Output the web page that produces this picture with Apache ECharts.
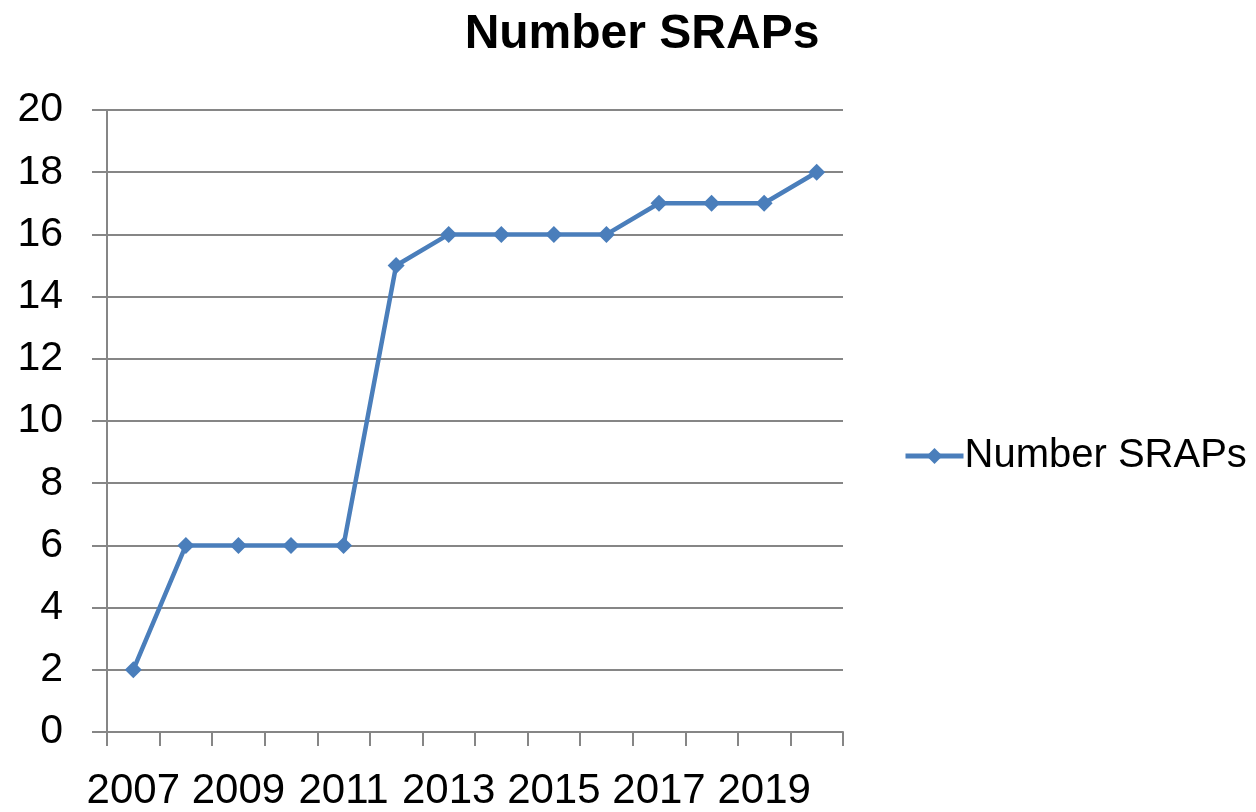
<!DOCTYPE html>
<html>
<head>
<meta charset="utf-8">
<script src="https://cdn.jsdelivr.net/npm/echarts@6/dist/echarts.min.js"></script>
<style>
html,body{margin:0;padding:0;background:#fff;}
#chart{width:1256px;height:812px;}
</style>
</head>
<body>
<div id="chart"></div>
<script>
var years = ['2007','2008','2009','2010','2011','2012','2013','2014','2015','2016','2017','2018','2019','2020'];
var srapCount = [2,6,6,6,6,15,16,16,16,16,17,17,17,18];
var seriesName = 'Number SRAPs';

var myChart = echarts.init(document.getElementById('chart'));
var option = {
    animation: false,
    backgroundColor: '#fff',
    textStyle: { fontFamily: 'Liberation Sans' },
    title: {
        text: seriesName,
        left: 637,
        textAlign: 'center',
        top: 6,
        textStyle: { fontSize: 48, fontWeight: 'bold', color: '#000', fontFamily: 'Liberation Sans' }
    },
    legend: {
        data: [seriesName],
        left: 898,
        top: 431,
        itemWidth: 58,
        itemHeight: 20,
        itemGap: 0,
        lineStyle: { width: 5 },
        textStyle: { fontSize: 40, color: '#000', padding: [0, 0, 0, -4] }
    },
    grid: { left: 107, right: 413, top: 110, bottom: 80 },
    xAxis: {
        type: 'category',
        data: years,
        boundaryGap: true,
        axisLine: { lineStyle: { color: '#868686', width: 2 } },
        axisTick: { show: true, interval: 0, length: 14, lineStyle: { color: '#868686', width: 2 } },
        axisLabel: { interval: 1, fontSize: 42, color: '#000', margin: 38 },
        splitLine: { show: false }
    },
    yAxis: {
        type: 'value',
        min: 0,
        max: 20,
        interval: 2,
        axisLine: { show: true, lineStyle: { color: '#868686', width: 2 } },
        axisTick: { show: true, length: 15, lineStyle: { color: '#868686', width: 2 } },
        axisLabel: { fontSize: 41, color: '#000', margin: 44 },
        splitLine: { lineStyle: { color: '#868686', width: 2 } }
    },
    series: [{
        name: seriesName,
        type: 'line',
        data: srapCount,
        symbol: 'diamond',
        symbolSize: 17,
        lineStyle: { color: '#4a7ebb', width: 4.5 },
        itemStyle: { color: '#4a7ebb' }
    }]
};
myChart.setOption(option);
</script>
</body>
</html>
